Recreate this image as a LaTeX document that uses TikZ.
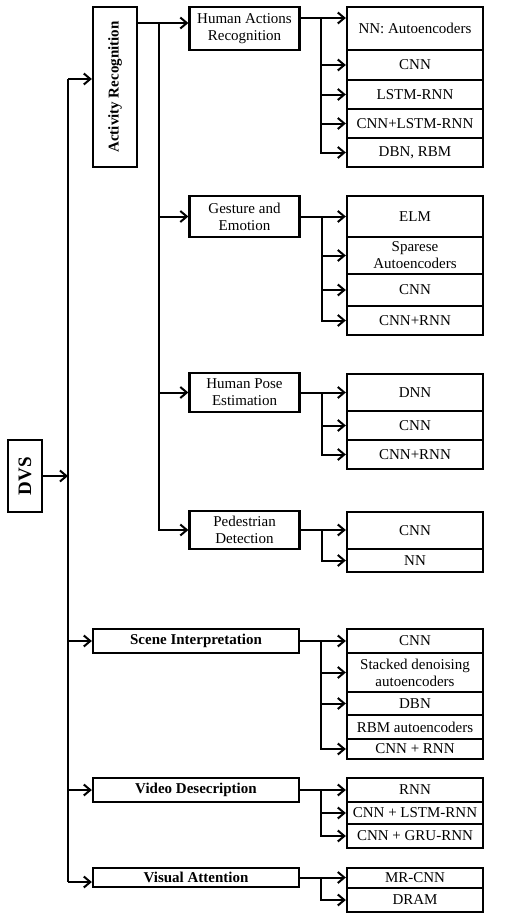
\documentclass[tikz,border=0pt]{standalone}
\usepackage{fontspec}
\setmainfont{Liberation Serif}
\usepackage{graphicx}
\usetikzlibrary{arrows.meta}

\begin{document}
\begin{tikzpicture}[
  x=1pt, y=-1pt,
  every node/.style={font=\fontsize{15}{17}\selectfont},
  box/.style={draw, line width=2.3pt, align=center, inner sep=0pt},
  head/.style={box, font=\fontsize{15}{17}\selectfont\bfseries},
  task/.style={box, minimum width=110pt},
  leaf/.style={box, minimum width=136pt},
  line/.style={line width=2pt},
  arr/.style={line, -{Straight Barb[length=6.5pt,width=11pt]}},
]
\useasboundingbox (0,0) rectangle (507,913);

%% ── Root and main branches ───────────────────
\node[head, minimum width=34pt, minimum height=72pt,
      font=\fontsize{19}{21}\selectfont\bfseries]
             at (25, 476)    (dvs)    {\rotatebox{90}{DVS}};
\node[head, minimum width=44pt, minimum height=160pt]
             at (115, 87)    (act)    {\rotatebox{90}{Activity Recognition}};
\node[head, minimum width=206pt, minimum height=24pt]
             at (196, 641)   (scene)  {Scene Interpretation};
\node[head, minimum width=206pt, minimum height=24pt]
             at (196, 790)   (video)  {Video Desecription};
\node[head, minimum width=206pt, minimum height=19pt]
             at (196, 877.5) (visatt) {Visual Attention};

%% ── Activity sub-tasks ───────────────────────
\node[task, minimum height=43pt] at (244.5, 28.5)  (hum)  {Human Actions\\Recognition};
\node[task, minimum height=41pt] at (244.5, 216.5) (gest) {Gesture and\\Emotion};
\node[task, minimum height=39pt] at (244.5, 392.5) (pose) {Human Pose\\Estimation};
\node[task, minimum height=38pt] at (244.5, 530)   (ped)  {Pedestrian\\Detection};

%% ── Methods: human actions ───────────────────
\node[leaf, minimum height=43pt] at (415, 28.5)  (hum1) {NN: Autoencoders};
\node[leaf, minimum height=30pt] at (415, 65)    (hum2) {CNN};
\node[leaf, minimum height=29pt] at (415, 94.5)  (hum3) {LSTM-RNN};
\node[leaf, minimum height=29pt] at (415, 123.5) (hum4) {CNN+LSTM-RNN};
\node[leaf, minimum height=29pt] at (415, 152.5) (hum5) {DBN, RBM};

%% ── Methods: gesture and emotion ─────────────
\node[leaf, minimum height=41pt] at (415, 216.5) (gest1) {ELM};
\node[leaf, minimum height=37pt] at (415, 255.5) (gest2) {Sparese\\Autoencoders};
\node[leaf, minimum height=32pt] at (415, 290)   (gest3) {CNN};
\node[leaf, minimum height=29pt] at (415, 320.5) (gest4) {CNN+RNN};

%% ── Methods: human pose ──────────────────────
\node[leaf, minimum height=37pt] at (415, 392.5) (pose1) {DNN};
\node[leaf, minimum height=29pt] at (415, 425.5) (pose2) {CNN};
\node[leaf, minimum height=29pt] at (415, 454.5) (pose3) {CNN+RNN};

%% ── Methods: pedestrian ──────────────────────
\node[leaf, minimum height=37pt] at (415, 530.5) (ped1) {CNN};
\node[leaf, minimum height=23pt] at (415, 560.5) (ped2) {NN};

%% ── Methods: scene ───────────────────────────
\node[leaf, minimum height=24pt] at (415, 641)   (scene1) {CNN};
\node[leaf, minimum height=39pt] at (415, 672.5) (scene2) {Stacked denoising\\autoencoders};
\node[leaf, minimum height=23pt] at (415, 703.5) (scene3) {DBN};
\node[leaf, minimum height=24pt] at (415, 727)   (scene4) {RBM autoencoders};
\node[leaf, minimum height=20pt] at (415, 749)   (scene5) {CNN + RNN};

%% ── Methods: video ───────────────────────────
\node[leaf, minimum height=24pt] at (415, 790) (video1) {RNN};
\node[leaf, minimum height=22pt] at (415, 813) (video2) {CNN + LSTM-RNN};
\node[leaf, minimum height=24pt] at (415, 836) (video3) {CNN + GRU-RNN};

%% ── Methods: attention ───────────────────────
\node[leaf, minimum height=20pt] at (415, 878) (visatt1) {MR-CNN};
\node[leaf, minimum height=24pt] at (415, 900) (visatt2) {DRAM};

%% ── Main trunk ───────────────────────────────
\coordinate (trk1) at (68, 79);
\coordinate (trk2) at (68, 882);
\draw[line] (trk1) -- (trk2);
\draw[arr] (dvs.east) -- (dvs.east -| trk1);
\draw[arr] (trk1) -- (trk1 -| act.west);
\draw[arr] (trk1 |- scene) -- (scene.west);
\draw[arr] (trk1 |- video) -- (video.west);
\draw[arr] (trk2) -- (trk2 -| visatt.west);

%% ── Activity trunk ───────────────────────────
\coordinate (actB) at (159, 23);
\draw[line] (actB -| act.east) -- (actB);
\draw[arr] (actB) -- (actB -| hum.west);
\draw[arr] (actB) |- (ped.west);
\draw[arr] (actB |- gest) -- (gest.west);
\draw[arr] (actB |- pose) -- (pose.west);

%% ── Human actions → methods ──────────────────
\coordinate (humB) at (321, 18);
\draw[arr] (humB -| hum.east) -- (humB -| hum1.west);
\draw[arr] (humB) |- (hum5.west);
\draw[arr] (humB |- hum2) -- (hum2.west);
\draw[arr] (humB |- hum3) -- (hum3.west);
\draw[arr] (humB |- hum4) -- (hum4.west);

%% ── Gesture → methods ────────────────────────
\coordinate (gestB) at (322, 216.5);
\draw[arr] (gest.east) -- (gest1.west);
\draw[arr] (gestB) |- (gest4.west);
\draw[arr] (gestB |- gest2) -- (gest2.west);
\draw[arr] (gestB |- gest3) -- (gest3.west);

%% ── Pose → methods ───────────────────────────
\coordinate (poseB) at (322, 392.5);
\draw[arr] (pose.east) -- (pose1.west);
\draw[arr] (poseB) |- (pose3.west);
\draw[arr] (poseB |- pose2) -- (pose2.west);

%% ── Pedestrian → methods ─────────────────────
\coordinate (pedB) at (322, 530);
\draw[arr] (ped.east) -- (pedB -| ped1.west);
\draw[arr] (pedB) |- (ped2.west);

%% ── Scene → methods ──────────────────────────
\coordinate (sceneB) at (321, 641);
\draw[arr] (scene.east) -- (scene1.west);
\draw[arr] (sceneB) |- (scene5.west);
\draw[arr] (sceneB |- scene2) -- (scene2.west);
\draw[arr] (sceneB |- scene3) -- (scene3.west);

%% ── Video → methods ──────────────────────────
\coordinate (videoB) at (321, 790);
\draw[arr] (video.east) -- (video1.west);
\draw[arr] (videoB) |- (video3.west);
\draw[arr] (videoB |- video2) -- (video2.west);

%% ── Attention → methods ──────────────────────
\coordinate (visattB) at (321, 877.5);
\draw[arr] (visatt.east) -- (visattB -| visatt1.west);
\draw[arr] (visattB) |- (visatt2.west);

\end{tikzpicture}
\end{document}
